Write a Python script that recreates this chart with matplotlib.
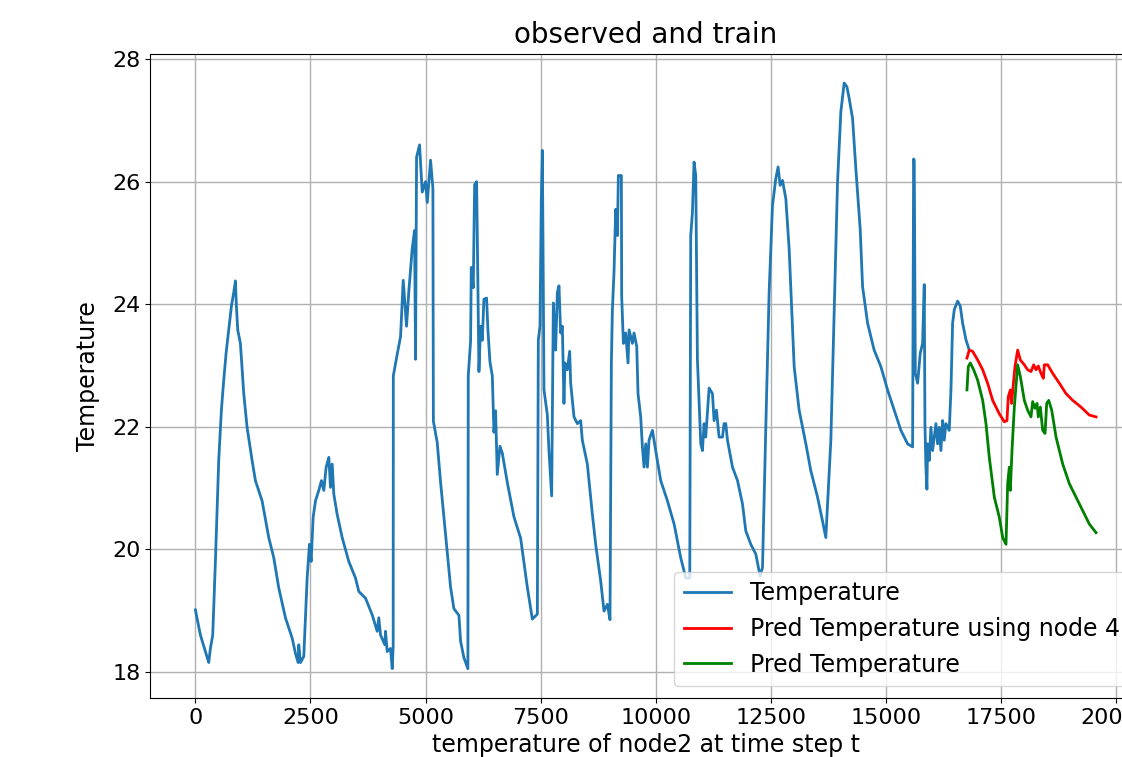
import matplotlib
matplotlib.use("Agg")
import matplotlib.pyplot as plt

# observed temperature (node2)
obs_x = [0, 109, 217, 290, 326, 377, 435, 507, 565, 616, 667, 725, 783, 833, 870, 891, 920, 978,
         1051, 1123, 1232, 1304, 1449, 1594, 1703, 1811, 1957, 2102, 2174, 2232, 2246, 2283, 2355,
         2428, 2478, 2515, 2558, 2609, 2681, 2739, 2790, 2841, 2899, 2935, 2972, 3007, 3080, 3189,
         3333, 3478, 3551, 3696, 3841, 3950, 3985, 4022, 4116, 4130, 4167, 4239, 4276, 4297,
         4300, 4384, 4457, 4515, 4587, 4638, 4711, 4761, 4783, 4805, 4870, 4928, 5000, 5037, 5109,
         5160, 5170, 5254, 5326, 5399, 5471, 5544, 5616, 5725, 5761, 5833, 5920,
         5928, 5979, 5993, 6037, 6066, 6109, 6124, 6160, 6196, 6233, 6268, 6326, 6355, 6399, 6450,
         6486, 6522, 6558, 6616, 6667, 6776, 6920, 7066, 7211, 7320, 7429,
         7450, 7486, 7515, 7537, 7551, 7573, 7645, 7682, 7740, 7776, 7826, 7863, 7899, 7935, 7972,
         8007, 8029, 8080, 8131, 8153, 8225, 8298, 8370, 8406, 8515, 8624, 8696, 8805, 8877, 8950,
         9007, 9037, 9059, 9094, 9131, 9168, 9189, 9254, 9261, 9298, 9348, 9399, 9421, 9494, 9529,
         9588, 9616, 9674, 9711, 9747, 9783, 9820, 9855, 9929, 10000, 10109, 10255, 10400, 10544,
         10653, 10740, 10761, 10798, 10833, 10870, 10906, 10979, 11015, 11051, 11087, 11160, 11233,
         11268, 11320, 11377, 11451, 11486, 11522, 11559, 11668, 11777, 11885, 11957, 12066, 12175,
         12268, 12320, 12392, 12464, 12537, 12609, 12659, 12703, 12755, 12827, 12899, 13008, 13116,
         13262, 13370, 13516, 13624, 13696, 13805, 13914, 13950, 14022, 14094, 14153, 14203, 14277,
         14348, 14442, 14494, 14603, 14746, 14892, 15037, 15181, 15327, 15472, 15581, 15603, 15617,
         15640, 15690, 15747, 15798, 15834, 15849, 15870, 15892, 15907, 15943, 15979, 16015, 16051,
         16088, 16124, 16160, 16196, 16233, 16268, 16305, 16377, 16414, 16450, 16486, 16559, 16616,
         16668, 16740, 16812]
obs_y = [19.01, 18.6, 18.33, 18.15, 18.38, 18.6, 19.8, 21.45, 22.27, 22.76, 23.2, 23.58, 23.97, 24.19,
         24.38, 23.97, 23.58, 23.36, 22.54, 21.99, 21.45, 21.12, 20.79, 20.19, 19.86, 19.37, 18.88,
         18.55, 18.3, 18.15, 18.44, 18.15, 18.25, 19.53, 20.08, 19.8, 20.52, 20.79, 20.96, 21.12,
         20.96, 21.34, 21.5, 21.01, 21.39, 20.9, 20.57, 20.19, 19.8, 19.53, 19.31, 19.2, 18.93, 18.66,
         18.88, 18.6, 18.44, 18.66, 18.33, 18.38, 18.05, 18.41,
         22.83, 23.18, 23.47, 24.39, 23.64, 24.22, 24.91, 25.2, 23.1, 26.4, 26.6, 25.83, 26.0, 25.66,
         26.35, 25.89, 22.09, 21.74, 21.1, 20.53, 19.95, 19.38, 19.03, 18.92, 18.5, 18.23, 18.05,
         22.83, 23.4, 24.6, 24.27, 25.95, 26.0, 25.14, 22.9, 23.64, 23.41, 24.08, 24.1, 23.58, 23.06,
         22.83, 21.91, 22.26, 21.22, 21.68, 21.57, 21.09, 20.53, 20.18, 19.38, 18.86, 18.94,
         23.41, 23.64, 25.72, 26.51, 25.1, 22.6, 22.2, 21.6, 20.87, 24.02, 23.25, 24.19, 24.3, 23.53,
         23.64, 22.38, 23.04, 22.93, 23.23, 22.71, 22.16, 22.05, 22.1, 21.78, 21.39, 20.57, 20.08,
         19.48, 18.99, 19.1, 18.85, 23.04, 23.91, 24.51, 25.55, 25.12, 26.1, 26.1, 24.13, 23.36,
         23.53, 23.04, 23.58, 23.36, 23.53, 23.31, 22.54, 22.16, 21.67, 21.34, 21.72, 21.34, 21.78,
         21.94, 21.61, 21.12, 20.79, 20.41, 19.86, 19.53, 19.53, 25.12, 25.5, 26.32, 26.1, 23.1,
         21.72, 21.61, 22.05, 21.83, 22.63, 22.54, 22.1, 22.27, 21.83, 21.83, 22.05, 22.05, 21.78,
         21.34, 21.12, 20.74, 20.3, 20.08, 19.92, 19.56, 19.7, 21.99, 24.19, 25.61, 26.05, 26.24,
         25.94, 26.02, 25.72, 24.9, 22.98, 22.27, 21.72, 21.28, 20.85, 20.46, 20.19, 21.78, 24.9,
         25.99, 27.14, 27.61, 27.55, 27.36, 27.03, 26.21, 25.23, 24.29, 23.69, 23.25, 22.98, 22.6,
         22.27, 21.94, 21.72, 21.67, 26.37, 26.35, 22.87, 22.71, 23.2, 23.36, 24.32, 22.05, 21.34,
         20.98, 21.72, 21.45, 21.99, 21.61, 21.83, 22.05, 21.72, 21.99, 21.61, 22.1, 21.78, 22.05,
         21.94, 22.6, 23.69, 23.91, 24.05, 23.97, 23.69, 23.42, 23.25]

# prediction using node 4
pred4_x = [16762, 16812, 16885, 16994, 17103, 17211, 17320, 17465, 17573, 17631, 17660, 17704,
           17733, 17777, 17805, 17863, 17921, 18008, 18080, 18153, 18211, 18262, 18312, 18371,
           18421, 18443, 18516, 18625, 18769, 18914, 19059, 19240, 19421, 19566]
pred4_y = [23.12, 23.25, 23.23, 23.09, 22.93, 22.71, 22.43, 22.21, 22.08, 22.1, 22.49, 22.6,
           22.38, 22.76, 22.98, 23.25, 23.09, 23.01, 22.93, 22.9, 23.01, 22.93, 22.99, 22.87,
           22.79, 23.01, 23.01, 22.87, 22.71, 22.54, 22.43, 22.32, 22.19, 22.16]

# prediction
pred_x = [16762, 16791, 16834, 16907, 16994, 17103, 17175, 17247, 17356, 17465, 17538, 17610,
          17646, 17682, 17704, 17740, 17791, 17863, 17921, 18008, 18080, 18153, 18189, 18240,
          18284, 18312, 18356, 18407, 18458, 18494, 18538, 18603, 18697, 18842, 18986, 19131,
          19276, 19421, 19566]
pred_y = [22.6, 22.98, 23.04, 22.93, 22.76, 22.43, 22.05, 21.5, 20.85, 20.52, 20.19, 20.08,
          21.07, 21.34, 20.96, 21.61, 22.32, 23.01, 22.82, 22.43, 22.27, 22.16, 22.41, 22.3,
          22.38, 22.16, 22.32, 21.94, 21.89, 22.38, 22.43, 22.27, 21.83, 21.39, 21.07, 20.85,
          20.63, 20.41, 20.27]

x_ticks = [0, 2500, 5000, 7500, 10000, 12500, 15000, 17500, 20000]
y_ticks = [18, 20, 22, 24, 26, 28]

fig = plt.figure(figsize=(11.22, 7.57), dpi=100)
ax = fig.add_axes([0.134, 0.078, 0.883, 0.851])

ax.plot(obs_x, obs_y, color="tab:blue", lw=2, label="Temperature")
ax.plot(pred4_x, pred4_y, color="red", lw=2, label="Pred Temperature using node 4")
ax.plot(pred_x, pred_y, color="green", lw=2, label="Pred Temperature")

ax.set_xticks(x_ticks)
ax.set_yticks(y_ticks)
ax.tick_params(labelsize=16)
ax.grid(True, color="#b0b0b0", lw=1)
ax.set_title("observed and train", fontsize=20, pad=8)
ax.set_xlabel("temperature of node2 at time step t", fontsize=17, labelpad=4)
ax.set_ylabel("Temperature", fontsize=17, labelpad=9)
ax.legend(loc="lower right", fontsize=17)

fig.savefig("out.png", dpi=100)
